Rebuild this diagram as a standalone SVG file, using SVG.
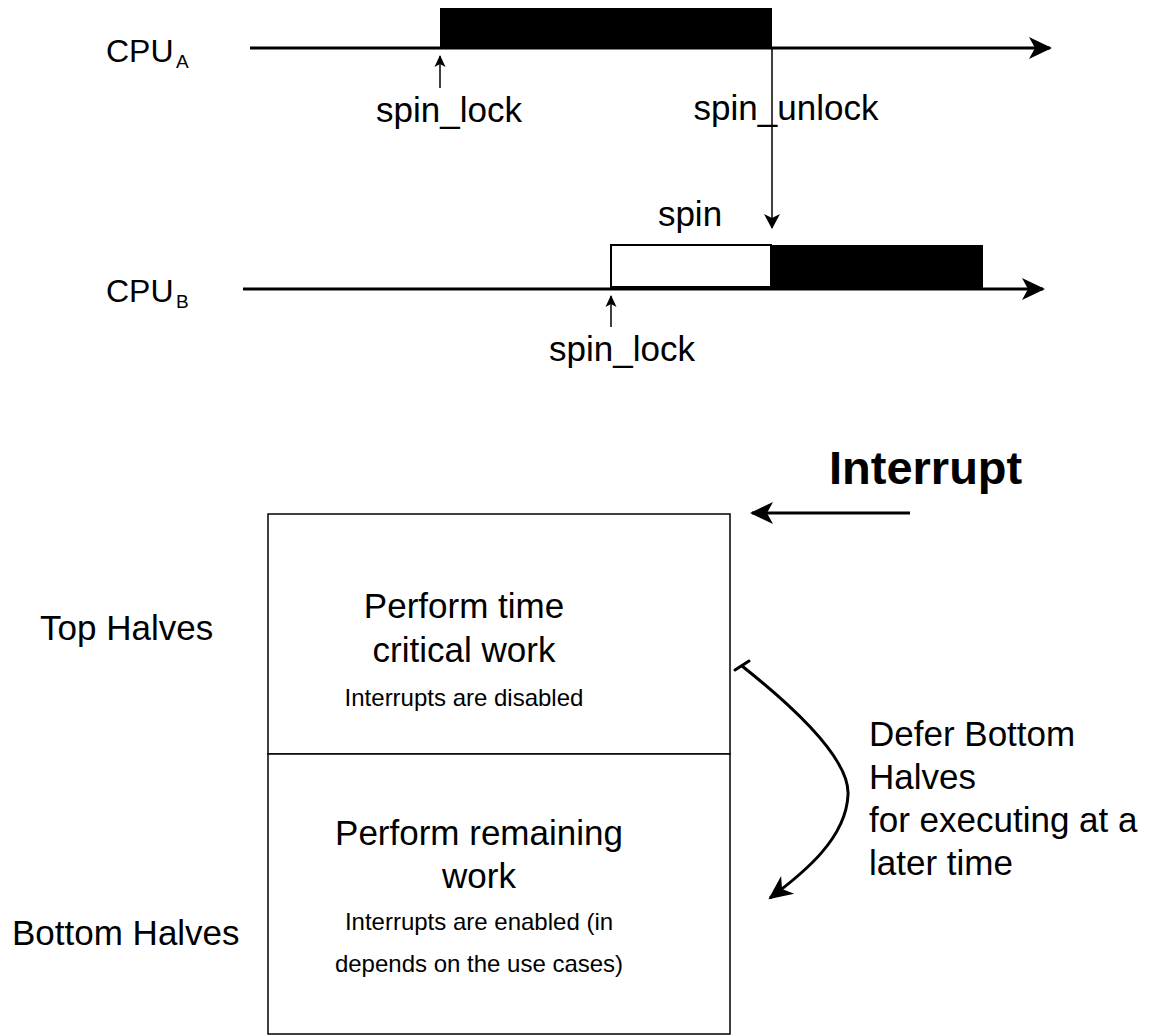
<svg xmlns="http://www.w3.org/2000/svg" width="1153" height="1036" viewBox="0 0 1153 1036">
  <style>
    text { font-family: "Liberation Sans", Arial, Helvetica, sans-serif; fill: #000; }
    .lbl { font-size: 35px; }
    .cpu { font-size: 32px; }
    .sub { font-size: 19px; }
    .small { font-size: 24px; }
    .title { font-size: 47px; font-weight: bold; }
    .axis { stroke: #000; stroke-width: 3; fill: none; }
    .thin { stroke: #000; stroke-width: 1.5; fill: none; }
    .box { fill: #fff; stroke: #000; stroke-width: 1.5; }
  </style>
  <defs>
    <marker id="classic" markerUnits="userSpaceOnUse" viewBox="-24 -12 26 24" markerWidth="26" markerHeight="24" refX="-2" refY="0" orient="auto">
      <path d="M0,0 L-23,-11 L-17,0 L-23,11 Z" fill="#000"/>
    </marker>
    <marker id="mid" markerUnits="userSpaceOnUse" viewBox="-16 -9 18 18" markerWidth="18" markerHeight="18" refX="-1" refY="0" orient="auto">
      <path d="M0,0 L-15,-8 L-11,0 L-15,8 Z" fill="#000"/>
    </marker>
    <marker id="tiny" markerUnits="userSpaceOnUse" viewBox="-13 -7 14 14" markerWidth="14" markerHeight="14" refX="-1" refY="0" orient="auto">
      <path d="M0,0 L-12,-5.5 L-9,0 L-12,5.5 Z" fill="#000"/>
    </marker>
    <marker id="curveHead" markerUnits="userSpaceOnUse" viewBox="-26 -13 28 26" markerWidth="28" markerHeight="26" refX="-2" refY="0" orient="auto">
      <path d="M0,0 L-24,-11 L-17,0 L-24,11 Z" fill="#000"/>
    </marker>
  </defs>

  <!-- CPU A timeline -->
  <g id="cpu-a">
    <text class="cpu" x="106" y="62">CPU</text>
    <text class="sub" x="176" y="68">A</text>
    <rect x="440" y="8" width="332" height="41" fill="#000"/>
  </g>

  <!-- CPU B timeline -->
  <g id="cpu-b">
    <text class="cpu" x="106" y="302">CPU</text>
    <text class="sub" x="176" y="308">B</text>
    <rect x="611" y="245" width="160" height="42" fill="#fff" stroke="#000" stroke-width="2"/>
    <rect x="771" y="245" width="212" height="43" fill="#000"/>
  </g>

  <!-- labels on the timelines -->
  <g id="timeline-labels">
    <text class="lbl" x="449" y="122" text-anchor="middle">spin_lock</text>
    <text class="lbl" x="786" y="120" text-anchor="middle">spin_unlock</text>
    <text class="lbl" x="690" y="226" text-anchor="middle">spin</text>
    <text class="lbl" x="622" y="361" text-anchor="middle">spin_lock</text>
  </g>

  <!-- top / bottom halves block -->
  <g id="top-half">
    <rect class="box" x="268" y="514" width="462" height="240"/>
    <text class="lbl" x="464" y="618" text-anchor="middle">Perform time</text>
    <text class="lbl" x="464" y="662" text-anchor="middle">critical work</text>
    <text class="small" x="464" y="706" text-anchor="middle">Interrupts are disabled</text>
  </g>
  <g id="bottom-half">
    <rect class="box" x="268" y="754" width="462" height="280"/>
    <text class="lbl" x="479" y="845" text-anchor="middle">Perform remaining</text>
    <text class="lbl" x="479" y="888" text-anchor="middle">work</text>
    <text class="small" x="479" y="930" text-anchor="middle">Interrupts are enabled (in</text>
    <text class="small" x="479" y="972" text-anchor="middle">depends on the use cases)</text>
  </g>

  <g id="side-labels">
    <text class="lbl" x="40" y="640">Top Halves</text>
    <text class="lbl" x="12" y="945">Bottom Halves</text>
    <text class="title" x="829" y="484">Interrupt</text>
    <text class="lbl" x="869" y="746">Defer Bottom</text>
    <text class="lbl" x="869" y="789">Halves</text>
    <text class="lbl" x="869" y="832">for executing at a</text>
    <text class="lbl" x="869" y="875">later time</text>
  </g>

  <!-- connectors -->
  <g id="connectors">
    <path class="axis" d="M250,48 H1050" marker-end="url(#classic)"/>
    <path class="axis" d="M243,289 H1043" marker-end="url(#classic)"/>
    <path class="thin" d="M772,48 V228" marker-end="url(#mid)"/>
    <path class="thin" d="M440,88 V56" marker-end="url(#tiny)"/>
    <path class="thin" d="M611,327 V296" marker-end="url(#tiny)"/>
    <path class="axis" d="M910,513 H752" marker-end="url(#classic)"/>
    <path class="axis" d="M742,666 C795,708 850,760 848,795 C846,838 805,872 770,898" marker-end="url(#curveHead)"/>
    <path class="axis" d="M735,670 L749,661" stroke-linecap="round"/>
  </g>
</svg>
